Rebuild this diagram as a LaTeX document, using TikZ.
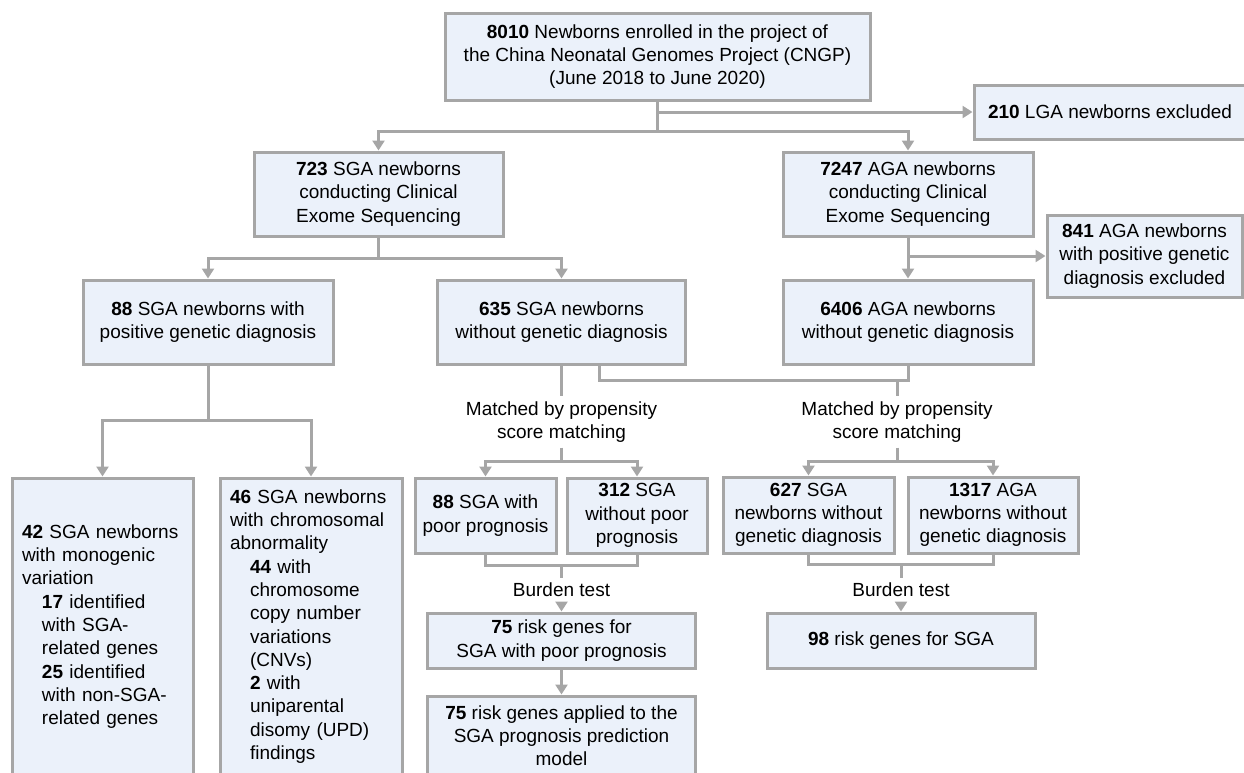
\documentclass[tikz,border=0pt]{standalone}
\usepackage{fontspec}
\setmainfont{Liberation Sans}
\usetikzlibrary{arrows.meta}
\definecolor{lgray}{RGB}{166,166,166}
\definecolor{lblue}{RGB}{235,241,250}
\newcommand\fsz{\fontsize{19}{23.3}\selectfont}
\begin{document}
\begin{tikzpicture}[x=1pt,y=-1pt,
  box/.style={draw=lgray, fill=lblue, line width=3pt, inner sep=0pt, align=center, font=\fsz},
  lbox/.style={box, align=left, inner xsep=10pt},
  lab/.style={inner sep=5pt, align=center, font=\fsz},
  conn/.style={draw=lgray, line width=3pt},
  arr/.style={conn, -{Triangle[width=12pt,length=10pt]}}]
\useasboundingbox (0,0) rectangle (1244,772);
% boxes
\node[box, minimum width=425pt, minimum height=87pt] (top) at (657.5,56.5)
  {\textbf{8010} Newborns enrolled in the project of\\the China Neonatal Genomes Project (CNGP)\\(June 2018 to June 2020)};
\node[box, minimum width=272pt, minimum height=54pt] (lga) at (1110,112)
  {\textbf{210} LGA newborns excluded};
\node[box, minimum width=249pt, minimum height=84pt] (sga723) at (378.5,194)
  {\textbf{723} SGA newborns\\conducting Clinical\\Exome Sequencing};
\node[box, minimum width=250pt, minimum height=84pt] (aga7247) at (908,194)
  {\textbf{7247} AGA newborns\\conducting Clinical\\Exome Sequencing};
\node[box, minimum width=250pt, minimum height=84pt] (sga88) at (208,322)
  {\textbf{88} SGA newborns with\\positive genetic diagnosis};
\node[box, minimum width=248pt, minimum height=84pt] (sga635) at (561.5,322)
  {\textbf{635} SGA newborns\\without genetic diagnosis};
\node[box, minimum width=250pt, minimum height=84pt] (aga6406) at (908,322)
  {\textbf{6406} AGA newborns\\without genetic diagnosis};
\node[box, minimum width=195pt, minimum height=82pt] (aga841) at (1144.5,256)
  {\textbf{841} AGA newborns\\with positive genetic\\diagnosis excluded};
\node[lab] (lab1) at (561.5,422) {Matched by propensity\\score matching};
\node[lab] (lab2) at (897,422) {Matched by propensity\\score matching};
\node[box, minimum width=141pt, minimum height=75pt] (sga88p) at (485.5,515.5)
  {\textbf{88} SGA with\\poor prognosis};
\node[box, minimum width=140pt, minimum height=75pt] (sga312) at (637,515.5)
  {\textbf{312} SGA\\without poor\\prognosis};
\node[box, minimum width=171pt, minimum height=76pt] (sga627) at (808.5,515)
  {\textbf{627} SGA\\newborns without\\genetic diagnosis};
\node[box, minimum width=170pt, minimum height=76pt] (aga1317) at (993,515)
  {\textbf{1317} AGA\\newborns without\\genetic diagnosis};
\node[lab] (bt1) at (561.5,590) {Burden test};
\node[lab] (bt2) at (901,590) {Burden test};
\node[box, minimum width=268pt, minimum height=55pt] (risk75) at (561.5,640.5)
  {\textbf{75} risk genes for\\SGA with poor prognosis};
\node[box, minimum width=268pt, minimum height=79pt] (risk75b) at (561.5,735.5)
  {\textbf{75} risk genes applied to the\\SGA prognosis prediction\\model};
\node[box, minimum width=268pt, minimum height=55pt] (risk98) at (901,640.5)
  {\textbf{98} risk genes for SGA};
\node[lbox, text width=161pt, minimum height=297pt] (mono42) at (102.5,626.5)
  {\textbf{42} SGA newborns\\with monogenic\\variation\\
   \hspace*{20pt}\textbf{17} identified\\\hspace*{20pt}with SGA-\\\hspace*{20pt}related genes\\
   \hspace*{20pt}\textbf{25} identified\\\hspace*{20pt}with non-SGA-\\\hspace*{20pt}related genes};
\node[lbox, text width=162pt, minimum height=297pt] (chr46) at (311,626.5)
  {\textbf{46} SGA newborns\\with chromosomal\\abnormality\\
   \hspace*{20pt}\textbf{44} with\\\hspace*{20pt}chromosome\\\hspace*{20pt}copy number\\\hspace*{20pt}variations\\\hspace*{20pt}(CNVs)\\
   \hspace*{20pt}\textbf{2} with\\\hspace*{20pt}uniparental\\\hspace*{20pt}disomy (UPD)\\\hspace*{20pt}findings};
% junctions
\coordinate (j1) at (657.5,131);
\coordinate (j2) at (378.5,258);
\coordinate (j3) at (208,420);
\coordinate (j4) at (561.5,461);
\coordinate (j5) at (897,380);
\coordinate (j8) at (897,461);
\coordinate (j6) at (561.5,565);
\coordinate (j7) at (901,564);
% connectors
\draw[arr] (top.south) -- (j1) -| (sga723.north);
\draw[arr] (j1) -| (aga7247.north);
\draw[arr] (top.south |- lga.west) -- (lga.west);
\draw[arr] (sga723.south) -- (j2) -| (sga88.north);
\draw[arr] (j2) -| (sga635.north);
\draw[arr] (aga7247.south) -- (aga6406.north);
\draw[arr] (aga7247.south |- aga841.west) -- (aga841.west);
\draw[arr] (sga88.south) -- (j3) -| (mono42.north);
\draw[arr] (j3) -| (chr46.north);
\draw[conn] (sga635.south) -- (lab1.north);
\draw[conn] ([xshift=38pt]sga635.south) |- (j5) -| (aga6406.south);
\draw[conn] (j5) -- (lab2.north);
\draw[conn] (lab1.south) -- (j4);
\draw[arr] (j4) -| (sga88p.north);
\draw[arr] (j4) -| (sga312.north);
\draw[conn] (lab2.south) -- (j8);
\draw[arr] (j8) -| (sga627.north);
\draw[arr] (j8) -| (aga1317.north);
\draw[conn] (sga88p.south) |- (j6) -| (sga312.south);
\draw[conn] (j6) -- (bt1.north);
\draw[arr] (bt1.south) -- (risk75.north);
\draw[conn] (sga627.south) |- (j7) -| (aga1317.south);
\draw[conn] (j7) -- (bt2.north);
\draw[arr] (bt2.south) -- (risk98.north);
\draw[arr] (risk75.south) -- (risk75b.north);
\end{tikzpicture}
\end{document}
